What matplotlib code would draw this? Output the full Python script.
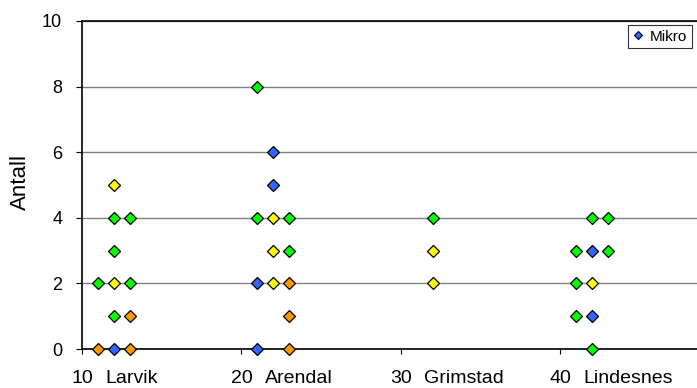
import matplotlib
matplotlib.use("Agg")
import matplotlib.pyplot as plt
from matplotlib.lines import Line2D

plt.rcParams["font.family"] = ["Liberation Sans", "DejaVu Sans"]

# site ticks and names
tick_vals = [10, 20, 30, 40]
site_names = ["Larvik", "Arendal", "Grimstad", "Lindesnes"]

# points by colour (x = site position, y = count)
green_x = [12, 13, 12, 11, 13, 12, 21, 21, 23, 23, 32, 42, 43, 41, 43, 41, 41, 42]
green_y = [4, 4, 3, 2, 2, 1, 8, 4, 4, 3, 4, 4, 4, 3, 3, 2, 1, 0]
yellow_x = [12, 12, 22, 22, 22, 32, 32, 42]
yellow_y = [5, 2, 4, 3, 2, 3, 2, 2]
orange_x = [11, 13, 13, 23, 23, 23]
orange_y = [0, 0, 1, 2, 1, 0]
blue_x = [12, 22, 22, 21, 21, 42, 42]
blue_y = [0, 6, 5, 2, 0, 3, 1]

fig = plt.figure(figsize=(6.97, 3.88), dpi=100)
ax = fig.add_axes([82 / 697, 1 - 349 / 388, 1 - 82 / 697, (349 - 21) / 388])

ax.set_xlim(10, 48.56)
ax.set_ylim(0, 10)
ax.set_yticks(range(0, 11, 2))
ax.set_xticks(tick_vals)
ax.yaxis.grid(True, color="#808080", linewidth=1.0)
ax.set_axisbelow(True)

for s in ["left", "bottom", "top"]:
    ax.spines[s].set_linewidth(1.2)
    ax.spines[s].set_color("black")
ax.spines["right"].set_visible(False)

ax.tick_params(axis="y", direction="out", length=4.3, width=0.8, labelsize=13, pad=10)
ax.tick_params(axis="x", direction="out", length=3.6, width=0.8, labelsize=14, pad=20.6)
ax.set_xticklabels([str(v) for v in tick_vals], va="baseline")

mk = dict(marker="D", markersize=6.2, markeredgecolor="black", markeredgewidth=0.9,
          linestyle="none", clip_on=False, zorder=5)
ax.plot(green_x, green_y, markerfacecolor="#00FF00", **mk)
ax.plot(yellow_x, yellow_y, markerfacecolor="#FFFF00", **mk)
ax.plot(orange_x, orange_y, markerfacecolor="#FF9900", **mk)
ax.plot(blue_x, blue_y, markerfacecolor="#3366FF", **mk)

# site names next to the tick numbers
for v, name in zip(tick_vals, site_names):
    ax.annotate(name, xy=(v, 0), xycoords=ax.get_xaxis_transform(),
                xytext=(23, -34), textcoords="offset pixels",
                ha="left", va="baseline", fontsize=14)

fig.text(20 / 697, 1 - 182.5 / 388, "Antall", rotation=90, ha="center", va="center",
         fontsize=16)

handle = Line2D([], [], marker="D", markersize=4.2, markerfacecolor="#3366FF",
                markeredgecolor="black", markeredgewidth=0.8, linestyle="none")
leg = ax.legend([handle], ["Mikro"], loc="upper right", bbox_to_anchor=(0.9919, 0.9878),
                fontsize=11, frameon=True, fancybox=False, edgecolor="black",
                handlelength=0.75, handletextpad=0.4, borderpad=0.3, borderaxespad=0)
leg.get_frame().set_linewidth(0.8)

fig.savefig("out.png", dpi=100)
